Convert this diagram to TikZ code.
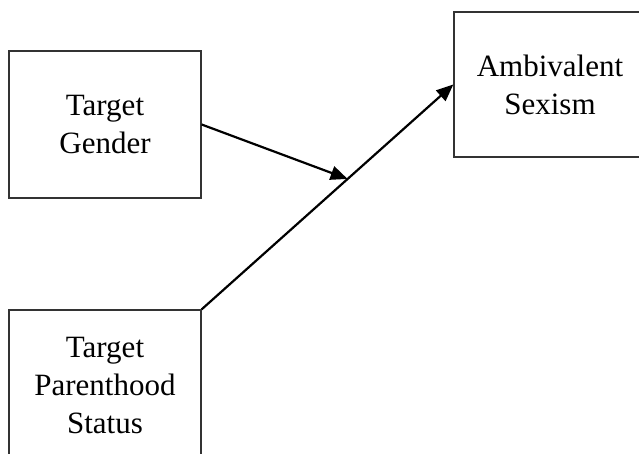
\documentclass[tikz,border=0pt]{standalone}
\usepackage{fontspec}
\setmainfont{Liberation Serif}
\usetikzlibrary{calc,arrows.meta}
\begin{document}
\begin{tikzpicture}[x=1pt,y=-1pt,
  boxnode/.style={draw=black!80,line width=1.3pt,rectangle,minimum width=192pt,align=center,
    font=\fontsize{31}{38}\selectfont,inner sep=0pt},
  conn/.style={line width=2.2pt,-{Triangle[length=17pt,width=14pt]}}]
\useasboundingbox (0,0) rectangle (639,454);
\clip (0,0) rectangle (639,454);
\fill[white] (0,0) rectangle (639,454);
\node[boxnode,minimum height=147pt] (tg) at (105,124.5) {Target\\Gender};
\node[boxnode,minimum height=150pt] (tp) at (105,385) {Target\\Parenthood\\Status};
\node[boxnode,minimum height=145pt] (as) at (550,84.5) {Ambivalent\\Sexism};
\coordinate (m) at ($(tp.north east)!0.58!(as.west)$);
\draw[conn] (tp.north east) -- (as.west);
\draw[conn] (tg.east) -- (m);
\end{tikzpicture}
\end{document}
